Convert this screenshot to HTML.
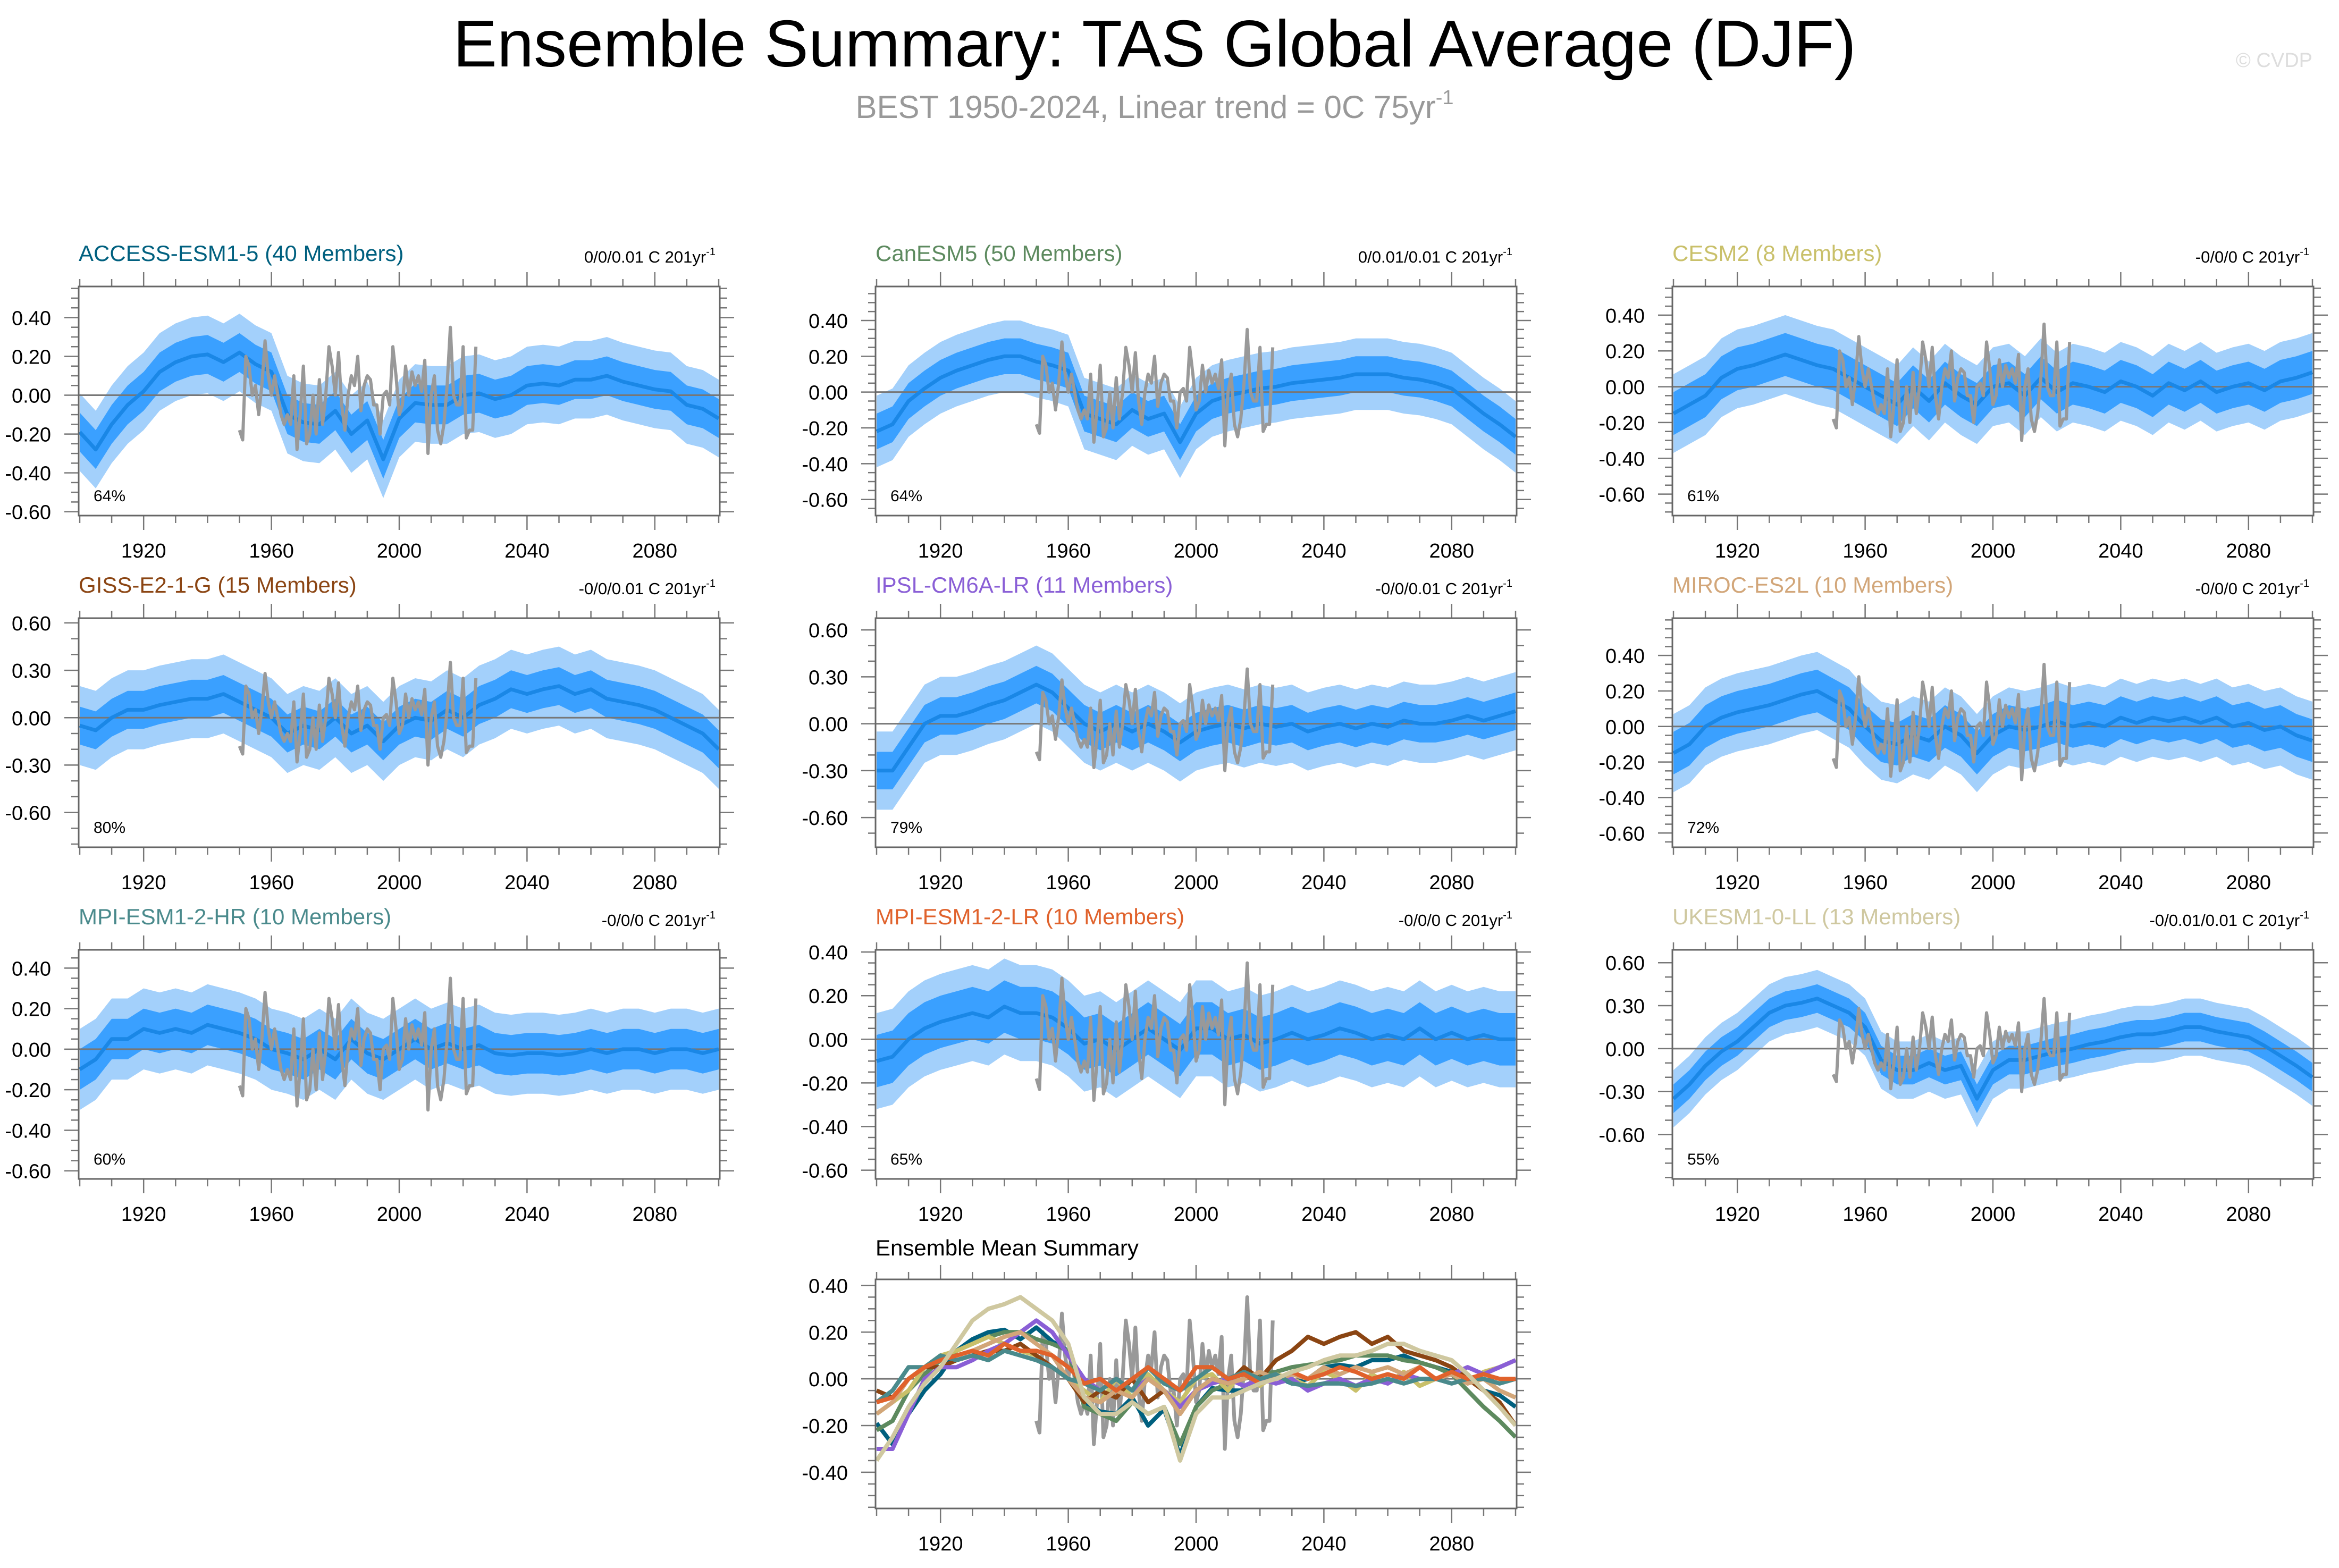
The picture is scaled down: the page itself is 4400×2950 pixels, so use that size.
<!DOCTYPE html>
<html><head><meta charset="utf-8">
<style>
body{margin:0;background:#fff;}
svg{display:block;font-family:"Liberation Sans",sans-serif;}
</style></head>
<body>
<svg id="chart" width="4400" height="2950" viewBox="0 0 4400 2950" xmlns="http://www.w3.org/2000/svg">
<rect width="4400" height="2950" fill="#fff"/>
<text x="2172" y="125" font-size="124" text-anchor="middle" fill="#000">Ensemble Summary: TAS Global Average (DJF)</text>
<text x="2172" y="222" font-size="60" text-anchor="middle" fill="#999">BEST 1950-2024, Linear trend = 0C 75yr<tspan font-size="38" dy="-26">-1</tspan></text>
<text x="4350" y="126" font-size="38" text-anchor="end" fill="#ddd">© CVDP</text>
<g id="panels"></g>
</svg>
<script>
const modelNames = ["ACCESS-ESM1-5 (40 Members)","CanESM5 (50 Members)","CESM2 (8 Members)","GISS-E2-1-G (15 Members)","IPSL-CM6A-LR (11 Members)","MIROC-ES2L (10 Members)","MPI-ESM1-2-HR (10 Members)","MPI-ESM1-2-LR (10 Members)","UKESM1-0-LL (13 Members)"];
const modelColors = ["#00607f","#5d8a5f","#c9c06a","#8b4513","#8a5fd6","#d2a679","#4a8a8c","#e0622c","#cfc8a0"];
const trendLabels = ["0/0/0.01","0/0.01/0.01","-0/0/0","-0/0/0.01","-0/0/0.01","-0/0/0","-0/0/0","-0/0/0","-0/0.01/0.01"];
const pctLabels = ["64%","64%","61%","80%","79%","72%","60%","65%","55%"];
const meanYears = [1900,1905,1910,1915,1920,1925,1930,1935,1940,1945,1950,1955,1960,1965,1970,1975,1980,1985,1990,1995,2000,2005,2010,2015,2020,2025,2030,2035,2040,2045,2050,2055,2060,2065,2070,2075,2080,2085,2090,2095,2100];
const meanAccess = [-0.19,-0.28,-0.15,-0.05,0.02,0.12,0.17,0.20,0.21,0.17,0.22,0.16,0.12,-0.10,-0.14,-0.15,-0.08,-0.20,-0.13,-0.33,-0.12,-0.04,-0.05,-0.05,0.00,0.01,-0.02,0.00,0.05,0.06,0.05,0.08,0.08,0.10,0.07,0.05,0.03,0.02,-0.05,-0.07,-0.12];
const meanCan = [-0.22,-0.18,-0.05,0.02,0.08,0.12,0.15,0.18,0.2,0.2,0.17,0.15,0.12,-0.12,-0.15,-0.18,-0.1,-0.15,-0.12,-0.28,-0.12,-0.05,-0.02,0.0,0.02,0.03,0.05,0.06,0.07,0.08,0.1,0.1,0.1,0.08,0.07,0.05,0.02,-0.05,-0.12,-0.18,-0.25];
const meanCesm = [-0.15,-0.1,-0.05,0.05,0.1,0.12,0.15,0.18,0.15,0.12,0.1,0.05,0.0,-0.05,-0.1,0.0,-0.08,0.02,-0.05,-0.1,0.0,0.02,-0.05,0.05,-0.03,0.02,0.0,-0.03,0.03,0.0,-0.05,0.02,-0.02,0.03,-0.03,0.0,0.02,-0.02,0.03,0.05,0.08];
const meanGiss = [-0.05,-0.08,0.0,0.05,0.05,0.08,0.1,0.12,0.12,0.15,0.1,0.05,0.0,-0.1,-0.05,-0.08,0.0,-0.1,-0.05,-0.15,-0.05,0.0,-0.02,0.05,0.0,0.08,0.12,0.18,0.15,0.18,0.2,0.15,0.18,0.12,0.1,0.08,0.05,0.0,-0.05,-0.1,-0.2];
const meanIpsl = [-0.3,-0.3,-0.15,0.0,0.05,0.05,0.08,0.12,0.15,0.2,0.25,0.2,0.1,0.0,-0.05,0.0,-0.05,0.0,-0.05,-0.12,-0.05,-0.02,0.0,-0.03,0.0,-0.02,0.0,-0.05,-0.02,0.0,-0.03,0.0,-0.02,0.02,0.0,0.0,0.02,0.05,0.02,0.05,0.08];
const meanMiroc = [-0.15,-0.1,0.0,0.05,0.08,0.1,0.12,0.15,0.18,0.2,0.15,0.1,0.0,-0.08,-0.1,-0.05,-0.08,0.0,-0.05,-0.15,-0.05,0.0,-0.02,0.0,0.03,0.0,0.02,0.0,0.05,0.02,0.05,0.03,0.05,0.02,0.05,0.0,0.02,-0.02,0.0,-0.05,-0.08];
const meanMpiHr = [-0.1,-0.05,0.05,0.05,0.1,0.08,0.1,0.08,0.12,0.1,0.08,0.05,0.0,-0.02,-0.05,0.0,-0.05,0.05,-0.02,-0.05,0.0,0.05,0.0,0.03,0.0,0.02,-0.02,-0.03,-0.02,-0.02,-0.03,-0.02,0.0,-0.02,0.0,0.0,-0.02,0.0,0.0,-0.02,0.0];
const meanMpiLr = [-0.1,-0.08,0.0,0.05,0.08,0.1,0.12,0.1,0.15,0.12,0.12,0.1,0.05,-0.02,0.0,-0.05,0.0,0.05,0.0,-0.05,0.05,0.05,0.0,0.02,-0.02,0.0,0.03,0.0,0.02,0.05,0.03,0.0,0.02,0.0,0.05,0.0,0.03,0.0,0.02,0.0,0.0];
const meanUk = [-0.35,-0.25,-0.12,-0.02,0.05,0.15,0.25,0.3,0.32,0.35,0.3,0.25,0.15,-0.08,-0.15,-0.15,-0.1,-0.15,-0.12,-0.35,-0.15,-0.08,-0.08,-0.05,-0.02,0.0,0.03,0.05,0.08,0.1,0.1,0.12,0.15,0.15,0.12,0.1,0.08,0.02,-0.05,-0.12,-0.2];
const innerSpread = [0.1,0.1,0.12,0.12,0.12,0.12,0.1,0.12,0.1];
const outerSpread = [0.2,0.2,0.22,0.25,0.25,0.22,0.2,0.22,0.2];
const obsStart = 1950;
const obsValues = [-0.18,-0.23,0.2,0.15,0.0,0.05,-0.1,0.05,0.28,0.1,0.0,0.1,0.0,-0.1,-0.15,-0.1,-0.15,0.1,-0.28,-0.1,0.15,-0.25,-0.2,0.0,-0.2,0.08,-0.15,0.0,0.25,0.15,0.0,0.22,-0.05,-0.18,0.0,0.1,0.05,0.2,-0.08,0.05,0.1,0.08,-0.05,-0.05,-0.2,0.0,0.02,-0.05,0.25,0.1,-0.1,-0.05,0.15,0.0,0.12,0.05,0.1,0.02,0.18,-0.3,0.0,0.1,-0.18,-0.25,-0.15,0.05,0.35,0.0,-0.05,-0.05,0.25,-0.22,-0.18,-0.18,0.25];
const yRanges = [[-0.62,0.56],[-0.69,0.59],[-0.72,0.56],[-0.82,0.63],[-0.79,0.675],[-0.68,0.61],[-0.64,0.49],[-0.64,0.41],[-0.91,0.69],[-0.555,0.426]];
const yTickSets = [[-0.6,-0.4,-0.2,0,0.2,0.4],[-0.6,-0.4,-0.2,0,0.2,0.4],[-0.6,-0.4,-0.2,0,0.2,0.4],[-0.6,-0.3,0,0.3,0.6],[-0.6,-0.3,0,0.3,0.6],[-0.6,-0.4,-0.2,0,0.2,0.4],[-0.6,-0.4,-0.2,0,0.2,0.4],[-0.6,-0.4,-0.2,0,0.2,0.4],[-0.6,-0.3,0,0.3,0.6],[-0.4,-0.2,0,0.2,0.4]];
const xTickLabels = [1920,1960,2000,2040,2080];

const allMeans = [meanAccess,meanCan,meanCesm,meanGiss,meanIpsl,meanMiroc,meanMpiHr,meanMpiLr,meanUk];
const NS="http://www.w3.org/2000/svg";
const root=document.getElementById('panels');
function mk(tag,attrs,parent){const e=document.createElementNS(NS,tag);for(const k in attrs)e.setAttribute(k,attrs[k]);(parent||root).appendChild(e);return e;}
const PW=1206,PH=431;
const lefts=[148,1647,3146], tops=[539,1163,1787];

function drawPanel(idx,L,T){
  const g=mk('g',{});
  
  
  const [ymin,ymax]=yRanges[idx];
  const xs=y=>L+2+(y-1900)*(PW-4)/200;
  const ys=v=>T+(ymax-v)/(ymax-ymin)*PH;
  for(let yr=1900;yr<=2100;yr+=10){
    const major=(yr-1920)%40===0&&yr>=1920&&yr<=2080;
    const len=major?27:14;
    const x=xs(yr);
    mk('line',{x1:x,x2:x,y1:T,y2:T-len,stroke:'#777','stroke-width':2.5},g);
    mk('line',{x1:x,x2:x,y1:T+PH,y2:T+PH+len,stroke:'#777','stroke-width':2.5},g);
  }
  xTickLabels.forEach(yr=>{
    const t=mk('text',{x:xs(yr),y:T+PH+79,'font-size':38,'text-anchor':'middle',fill:'#000'},g);
    
    
    t.textContent=yr;
  });
  const tk=yTickSets[idx]; const step=tk[1]-tk[0]; const minor=step>0.25?0.1:0.05;
  for(let v=Math.ceil(ymin/minor-1e-6)*minor;v<=ymax+1e-9;v+=minor){
    const y=ys(v); const isMaj=tk.some(t=>Math.abs(t-v)<1e-6);
    const len=isMaj?27:14;
    mk('line',{x1:L,x2:L-len,y1:y,y2:y,stroke:'#777','stroke-width':2.5},g);
    mk('line',{x1:L+PW,x2:L+PW+len,y1:y,y2:y,stroke:'#777','stroke-width':2.5},g);
  }
  tk.forEach(v=>{
    const t=mk('text',{x:L-52,y:ys(v)+14,'font-size':38,'text-anchor':'end',fill:'#000'},g);
    
    
    t.textContent=(v<0?'-':'')+Math.abs(v).toFixed(2);
  });
  const clipId='clip'+idx;
  const cp=mk('clipPath',{id:clipId},g); mk('rect',{x:L,y:T,width:PW,height:PH},cp);
  const inner=mk('g',{'clip-path':'url(#'+clipId+')'},g);
  function linePath(years,vals){return vals.map((v,i)=>(i?'L':'M')+xs(years[i]).toFixed(1)+','+ys(v).toFixed(1)).join('');}
  function band(vals,w){
    let d=vals.map((v,i)=>(i?'L':'M')+xs(meanYears[i]).toFixed(1)+','+ys(v+w).toFixed(1)).join('');
    for(let i=vals.length-1;i>=0;i--)d+='L'+xs(meanYears[i]).toFixed(1)+','+ys(vals[i]-w).toFixed(1);
    return d+'Z';
  }
  const obsYears=obsValues.map((_,i)=>obsStart+i);
  if(idx<9){
    const m=allMeans[idx];
    const b1=mk('path',{d:band(m,outerSpread[idx]),fill:'#a3d0fb'},inner);
    
    
    const b2=mk('path',{d:band(m,innerSpread[idx]),fill:'#3aa0ff'},inner);
    
    
    mk('line',{x1:L,x2:L+PW,y1:ys(0),y2:ys(0),stroke:'#777','stroke-width':3},inner);
    const ml=mk('path',{d:linePath(meanYears,m),fill:'none',stroke:'#1a87e6','stroke-width':7,'stroke-linejoin':'round'},inner);
    
    
    const ol=mk('path',{d:linePath(obsYears,obsValues),fill:'none',stroke:'#999','stroke-width':6,'stroke-linejoin':'round'},inner);
    
    
    const tt=mk('text',{x:L,y:T-48,'font-size':42,fill:modelColors[idx]},g);
    
    
    tt.textContent=modelNames[idx];
    const tr=mk('text',{x:L+PW-8,y:T-45,'font-size':31,'text-anchor':'end',fill:'#000'},g);
    
    
    tr.textContent=trendLabels[idx]+' C 201yr';
    const sp=mk('tspan',{'font-size':20,dy:-14},tr); sp.textContent='-1';
    const pc=mk('text',{x:L+28,y:T+PH-27,'font-size':30,fill:'#000'},g);
    
    
    pc.textContent=pctLabels[idx];
  } else {
    mk('line',{x1:L,x2:L+PW,y1:ys(0),y2:ys(0),stroke:'#777','stroke-width':3},inner);
    const ol=mk('path',{d:linePath(obsYears,obsValues),fill:'none',stroke:'#999','stroke-width':7,'stroke-linejoin':'round'},inner);
    
    
    allMeans.forEach((m,k)=>{
      const p=mk('path',{d:linePath(meanYears,m),fill:'none',stroke:modelColors[k],'stroke-width':8,'stroke-linejoin':'round'},inner);
      
      
    });
    const tt=mk('text',{x:L,y:T-45,'font-size':42,fill:'#000'},g);
    
    
    tt.textContent='Ensemble Mean Summary';
  }
  mk('rect',{x:L,y:T,width:PW,height:PH,fill:'none',stroke:'#666','stroke-width':3},g);
}
for(let i=0;i<9;i++)drawPanel(i,lefts[i%3],tops[Math.floor(i/3)]);
drawPanel(9,1647,2407);
</script>
</body></html>
